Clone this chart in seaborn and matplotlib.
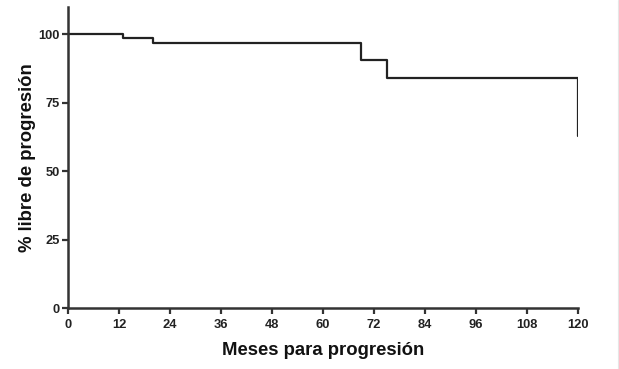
import matplotlib
matplotlib.use("Agg")
import matplotlib.pyplot as plt
from matplotlib.lines import Line2D
import seaborn as sns
import pandas as pd

months = [0, 13, 20, 69, 75, 120, 120]
survival = [100, 98.5, 96.7, 90.8, 83.9, 83.9, 63.0]
xticks = [0, 12, 24, 36, 48, 60, 72, 84, 96, 108, 120]
yticks = [0, 25, 50, 75, 100]

sns.set_style("ticks")
plt.rcParams['font.family'] = ['Liberation Sans', 'DejaVu Sans']

df = pd.DataFrame({"Meses": months, "Libre": survival})

fig = plt.figure(figsize=(6.19, 3.69), dpi=100)
ax = fig.add_axes([0.11, 0.165, 0.824, 0.816])
sns.lineplot(data=df, x="Meses", y="Libre", estimator=None, sort=False,
             drawstyle="steps-post", color="#222222", linewidth=1.6, ax=ax)

ax.set_xlim(0, 120)
ax.set_ylim(0, 110)
ax.set_xticks(xticks)
ax.set_yticks(yticks)
ax.set_xticklabels([str(t) for t in xticks], fontweight="bold", fontsize=9.3, color="#222222")
ax.set_yticklabels([str(t) for t in yticks], fontweight="bold", fontsize=9.3, color="#222222")
ax.set_xlabel("Meses para progresión", fontsize=13.3, fontweight="bold", color="#111111", labelpad=8)
ax.set_ylabel("% libre de progresión", fontsize=13.3, fontweight="bold", color="#111111", labelpad=2)
for s in ["top", "right"]:
    ax.spines[s].set_visible(False)
for s in ["left", "bottom"]:
    ax.spines[s].set_linewidth(1.8)
    ax.spines[s].set_color("#333333")
ax.tick_params(axis="x", direction="out", length=4, width=1.6, color="#333333", pad=4)
ax.tick_params(axis="y", direction="out", length=4, width=1.6, color="#333333", pad=2)

fig.add_artist(Line2D([617.5 / 619, 617.5 / 619], [0, 1], transform=fig.transFigure,
                      color="#e6e6e6", linewidth=0.8))

fig.savefig("out.png", dpi=100)
